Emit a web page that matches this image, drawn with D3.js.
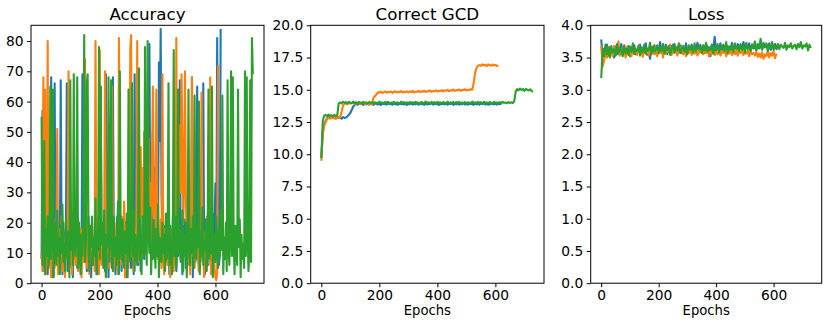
<!DOCTYPE html>
<html>
<head>
<meta charset="utf-8">
<script src="https://cdn.jsdelivr.net/npm/d3@7"></script>
<style>
  body { margin: 0; background: #fff; }
  svg text { font-family: "DejaVu Sans", sans-serif; fill: #000; }
</style>
</head>
<body>
<svg id="chart" width="831" height="326"></svg>
<script>
// colours of the three runs (matplotlib default cycle)
let runColors = ['#1f77b4', '#ff7f0e', '#2ca02c']

let xTicks = [0, 200, 400, 600]

// Accuracy, one value every 3 epochs
let accStep = 3
let accBlue = [8,57,12,4,17,9,21,3,14,10, 6,68,19,2,13,66,8,22,11,5,
  16,9,67,14,3,20,7,12,18,66, 4,15,10,23,6,13,2,19,11,8,
  17,5,21,9,14,3,12,69,7,20, 10,16,4,13,22,8,11,2,18,9,
  15,6,20,12,3,17,10,24,65,7, 14,9,19,4,69,11,16,2,21,8,
  13,5,68,18,10,3,15,22,7,12, 9,19,4,16,11,6,20,13,2,17,
  8,14,21,5,12,10,3,69,16,9, 19,6,13,22,4,15,11,28,8,35,
  24,45,30,18,79,26,40,12,50,33, 22,38,15,28,20,73,47,84,30,16,
  9,19,5,13,21,7,15,3,18,11, 10,22,6,14,17,4,20,9,12,67,
  8,16,3,19,11,21,5,13,9,18, 6,15,10,68,2,20,12,7,17,65,
  11,4,19,8,14,22,66,10,3,16, 12,18,6,21,9,13,17,23,15,20,
  33,10,81,14,6,9,84]
let accOrange = [10,4,68,9,64,3,15,80,6,19, 11,2,17,8,21,5,13,9,51,3,
  18,7,12,22,4,16,10,2,14,8, 20,70,5,11,17,3,19,9,13,6,
  21,10,4,15,8,18,2,12,23,7, 74,14,5,19,9,3,16,11,20,6,
  13,4,80,17,9,22,3,77,11,6, 15,8,19,70,2,14,10,21,5,12,
  9,65,16,4,20,11,7,18,3,81, 13,6,22,10,15,27,2,19,8,12,
  5,17,77,82,9,21,4,14,11,19, 80,7,16,30,45,22,38,12,50,28,
  35,42,15,48,25,33,10,40,65,22, 30,18,64,27,8,16,12,21,5,69,
  11,3,18,9,14,6,20,12,2,17, 8,15,4,19,10,81,13,40,25,52,
  30,69,45,20,38,70,28,14,6,19, 11,3,16,68,9,21,5,13,8,18,
  12,4,20,7,63,15,10,2,17,9, 22,6,14,11,68,3,18,8,13,5,
  2,1,3,72]
let accGreen = [55,6,14,47,3,18,9,22,5,12, 65,8,17,64,2,20,11,6,24,9,
  15,3,19,10,26,7,13,4,21,12, 8,17,2,67,11,23,6,69,14,9,
  18,68,5,20,12,3,16,9,25,82, 7,14,66,69,10,4,19,12,22,6,
  15,9,28,3,17,11,78,8,65,13, 20,5,24,10,2,16,12,68,7,19,
  67,11,4,22,9,15,6,18,27,3, 70,12,8,21,14,5,17,10,23,2,
  64,13,7,19,66,9,24,4,16,11, 6,20,71,8,15,3,22,12,9,78,
  14,6,80,17,10,25,3,13,8,21, 11,5,18,9,26,2,15,12,7,20,
  10,16,4,23,8,13,66,6,19,11, 3,15,77,9,22,5,14,64,10,18,
  7,12,24,4,16,9,20,2,13,64, 11,6,18,10,22,5,62,14,8,19,
  12,60,3,17,9,25,6,14,11,21, 4,15,64,8,19,10,65,2,16,12,
  7,22,13,5,18,9,24,11,62,3, 15,8,20,4,67,12,6,17,70,9,
  68,14,3,19,10,6,64,12,21,2, 16,8,13,5,70,9,68,18,4,11,
  67,7,81,69]

// Correct GCD, one value every 5 epochs
let gcdStep = 5
let gcdBlue = [9.7,11.8,12.3,12.6,12.8,
  12.88,12.8,12.92,12.83,12.87,12.78,12.9,12.82,12.86,12.75,12.89,12.81,12.85,
  12.95,13.05,13.2,13.45,13.7,13.85,
  13.9,13.84,13.95,13.88,13.93,13.82,13.97,13.87,13.91,13.85,
  13.94,13.89,13.83,13.96,13.9,13.86,13.92,13.81,13.95,13.88,
  13.93,13.85,13.97,13.89,13.91,13.84,13.94,13.87,13.9,13.83,
  13.96,13.88,13.92,13.86,13.95,13.82,13.9,13.89,13.94,13.85,
  13.91,13.87,13.97,13.84,13.93,13.88,13.9,13.83,13.95,13.86,
  13.92,13.89,13.96,13.85,13.91,13.87,13.94,13.82,13.9,13.88,
  13.93,13.86,13.97,13.84,13.92,13.89,13.95,13.83,13.91,13.87,
  13.94,13.85,13.9,13.88,13.96,13.86,13.92,13.84,13.93,13.89,
  13.91,13.83,13.95,13.87,13.9,13.85,13.94,13.88,13.97,13.86,
  13.92,13.84,13.9,13.89,13.95,13.87,13.91,13.85,13.93,13.88,13.9]
let gcdOrange = [9.5,11.5,12.2,12.5,12.75,
  12.82,12.76,12.88,12.79,12.85,12.74,12.87,12.8,12.9,
  13.3,13.8,
  13.9,13.98,13.88,14.02,13.93,13.97,14.04,13.9,13.99,13.94,
  14.03,13.89,13.96,14.01,13.92,13.98,13.87,13.95,13.9,
  13.85,14.4,14.5,14.65,14.8,
  14.78,14.85,14.75,14.82,14.88,14.77,14.84,14.8,14.87,14.76,
  14.83,14.89,14.79,14.86,14.81,14.9,14.78,14.85,14.82,14.88,
  14.8,14.87,14.83,14.91,14.79,14.86,14.84,14.92,14.81,14.88,
  14.85,14.93,14.83,14.9,14.87,14.95,14.84,14.91,14.88,14.96,
  14.86,14.93,14.9,14.97,14.88,14.95,14.92,15.0,14.89,14.96,
  14.93,15.02,14.91,14.98,14.95,15.03,14.92,15.0,14.97,15.04,
  14.94,15.01,14.98,15.05,15.0,
  15.5,16.3,16.7,16.85,
  16.92,16.85,16.98,16.88,16.95,16.83,16.97,16.9,16.86,16.96,16.89,16.93,16.84,16.9]
let gcdGreen = [9.7,12.6,13.0,
  13.05,12.95,13.08,12.98,13.02,12.94,13.06,12.97,13.03,
  13.95,
  14.02,13.95,14.07,13.98,14.04,13.92,14.06,14.0,13.96,14.08,
  13.97,14.03,13.93,14.05,14.01,13.94,14.07,13.99,14.02,13.95,
  14.06,13.98,14.04,13.91,14.03,14.0,13.96,14.08,13.97,14.02,
  13.94,14.05,13.99,14.07,13.93,14.01,13.97,14.06,13.95,14.03,
  14.0,13.92,14.08,13.98,14.04,13.96,14.02,13.94,14.06,13.99,
  14.03,13.95,14.07,13.97,14.01,13.93,14.05,14.0,13.96,14.09,
  13.98,14.02,13.94,14.06,13.99,14.04,13.92,14.07,13.97,14.03,
  13.95,14.05,14.0,13.93,14.08,13.98,14.02,13.96,14.06,13.94,
  14.04,13.99,14.07,13.95,14.01,13.97,14.05,13.93,14.03,14.0,
  13.96,14.08,13.98,14.02,13.94,14.06,13.99,14.04,13.92,14.07,
  13.97,14.03,13.95,14.05,14.0,13.93,14.06,13.98,14.02,13.96,
  14.04,13.94,14.07,13.99,14.01,13.95,14.05,13.97,14.03,13.98,
  14.1,14.85,
  15.05,14.95,15.1,14.98,15.06,14.92,15.08,15.0,14.94,15.04,14.9,14.85]

// Loss, one value every 5 epochs
let lossStep = 5
let lossBlue = [3.78,3.52,3.64,3.56,3.7,3.53,3.66,3.58,3.62,3.5,
  3.67,3.55,3.63,3.59,3.71,3.54,3.65,3.6,3.57,3.68,
  3.52,3.64,3.58,3.69,3.55,3.62,3.6,3.7,3.56,3.65,
  3.58,3.72,3.54,3.63,3.48,3.66,3.59,3.69,3.56,3.64,
  3.6,3.74,3.57,3.66,3.62,3.7,3.55,3.65,3.61,3.68,
  3.58,3.71,3.6,3.66,3.63,3.69,3.57,3.64,3.61,3.72,
  3.59,3.66,3.62,3.7,3.58,3.67,3.6,3.73,3.62,3.65,
  3.6,3.69,3.57,3.71,3.63,3.66,3.52,3.7,3.61,3.82,
  3.6,3.68,3.63,3.72,3.59,3.66,3.62,3.7,3.64,3.67,
  3.61,3.73,3.63,3.68,3.6,3.71,3.65,3.69,3.62,3.74,
  3.63,3.68,3.66,3.72,3.61,3.7,3.64,3.67,3.62,3.71,
  3.65,3.69,3.63,3.73,3.66,3.7,3.64,3.72,3.62,3.68,
  3.66,3.71,3.63,3.69,3.65]
let lossOrange = [3.68,3.36,3.45,3.58,3.5,3.66,3.55,3.62,3.52,3.68,
  3.56,3.6,3.75,3.53,3.64,3.57,3.61,3.5,3.67,3.55,
  3.62,3.52,3.66,3.58,3.6,3.54,3.69,3.56,3.63,3.51,
  3.65,3.58,3.61,3.53,3.67,3.57,3.62,3.55,3.68,3.52,
  3.6,3.57,3.64,3.5,3.66,3.56,3.62,3.59,3.7,3.54,
  3.61,3.57,3.65,3.53,3.63,3.58,3.68,3.55,3.6,3.52,
  3.64,3.57,3.61,3.54,3.66,3.56,3.62,3.53,3.6,3.58,
  3.65,3.55,3.61,3.57,3.63,3.52,3.6,3.56,3.64,3.54,
  3.59,3.55,3.62,3.53,3.6,3.57,3.64,3.52,3.58,3.56,
  3.61,3.54,3.59,3.55,3.63,3.53,3.6,3.57,3.62,3.54,
  3.58,3.56,3.61,3.52,3.6,3.55,3.57,3.53,3.59,3.51,
  3.56,3.5,3.58,3.48,3.55,3.52,3.6,3.5,3.57,3.53,
  3.6,3.49,3.56]
let lossGreen = [3.18,3.62,3.52,3.7,3.55,3.66,3.5,3.68,3.58,3.63,
  3.53,3.71,3.56,3.65,3.6,3.52,3.69,3.57,3.64,3.54,
  3.67,3.59,3.72,3.55,3.63,3.6,3.68,3.53,3.66,3.58,
  3.7,3.56,3.64,3.61,3.73,3.55,3.67,3.59,3.62,3.69,
  3.57,3.65,3.6,3.71,3.56,3.66,3.62,3.68,3.54,3.64,
  3.7,3.58,3.66,3.61,3.72,3.57,3.63,3.68,3.59,3.65,
  3.55,3.69,3.62,3.67,3.58,3.72,3.6,3.66,3.63,3.7,
  3.57,3.68,3.61,3.73,3.59,3.65,3.62,3.69,3.56,3.67,
  3.63,3.71,3.58,3.66,3.64,3.7,3.6,3.74,3.57,3.67,
  3.62,3.69,3.59,3.72,3.64,3.66,3.6,3.71,3.62,3.68,
  3.58,3.73,3.63,3.67,3.6,3.7,3.65,3.75,3.61,3.68,
  3.64,3.79,3.62,3.7,3.66,3.72,3.6,3.69,3.65,3.74,
  3.62,3.68,3.66,3.71,3.63,3.7,3.67,3.65,3.73,3.62,
  3.69,3.66,3.72,3.64,3.68,3.7,3.63,3.71,3.66,3.74,
  3.64,3.69,3.67,3.72,3.61,3.7,3.65]

let panels = [
  { title: 'Accuracy', left: 31, width: 233, yMax: 85.2,
    yTicks: d3.range(0, 81, 10), fmt: d3.format('d'),
    step: accStep, series: [accBlue, accOrange, accGreen] },
  { title: 'Correct GCD', left: 310.7, width: 233.3, yMax: 20,
    yTicks: d3.range(0, 20.1, 2.5), fmt: d3.format('.1f'),
    step: gcdStep, series: [gcdBlue, gcdOrange, gcdGreen] },
  { title: 'Loss', left: 590.7, width: 231, yMax: 4,
    yTicks: d3.range(0, 4.01, 0.5), fmt: d3.format('.1f'),
    step: lossStep, series: [lossBlue, lossOrange, lossGreen] }
]

let plotTop = 25.3
let plotBottom = 283.2

let svg = d3.select('#chart')

let drawPanel = (p) => {
  let g = svg.append('g')

  let x = d3.scaleLinear().domain([-36.6, 767.6]).range([p.left, p.left + p.width])
  let y = d3.scaleLinear().domain([0, p.yMax]).range([plotBottom, plotTop])

  let line = d3.line()
    .x((d, i) => x(i * p.step))
    .y((d) => y(d))

  p.series.forEach((s, k) => {
    g.append('path')
      .datum(s)
      .attr('d', line)
      .attr('fill', 'none')
      .attr('stroke', runColors[k])
      .attr('stroke-width', 2.1)
      .attr('stroke-linejoin', 'round')
  })

  let xAxis = g.append('g')
    .attr('transform', 'translate(0,' + plotBottom + ')')
    .call(d3.axisBottom(x).tickValues(xTicks).tickSize(4).tickPadding(3.5))
  let yAxis = g.append('g')
    .attr('transform', 'translate(' + p.left + ',0)')
    .call(d3.axisLeft(y).tickValues(p.yTicks).tickFormat(p.fmt).tickSize(4).tickPadding(3.5))

  ;[xAxis, yAxis].forEach((a) => {
    a.select('.domain').remove()
    a.selectAll('line').attr('stroke', '#000').attr('stroke-width', 1)
    a.selectAll('text').style('font-size', '13.8px')
      .style('font-family', '"DejaVu Sans", sans-serif').attr('fill', '#000')
  })

  // frame
  g.append('rect')
    .attr('x', p.left)
    .attr('y', plotTop)
    .attr('width', p.width)
    .attr('height', plotBottom - plotTop)
    .attr('fill', 'none')
    .attr('stroke', '#000')
    .attr('stroke-width', 1)

  g.append('text')
    .attr('x', p.left + p.width / 2)
    .attr('y', 19.5)
    .attr('text-anchor', 'middle')
    .style('font-size', '16.7px')
    .text(p.title)

  g.append('text')
    .attr('x', p.left + p.width / 2)
    .attr('y', 315)
    .attr('text-anchor', 'middle')
    .style('font-size', '13.2px')
    .text('Epochs')
}

panels.forEach(drawPanel)
</script>
</body>
</html>
